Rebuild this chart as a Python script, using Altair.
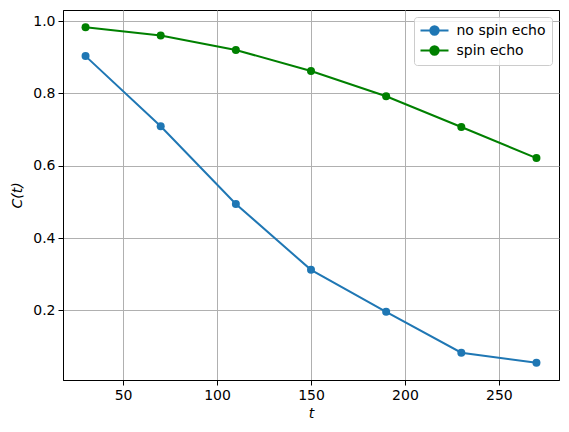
import altair as alt
import pandas as pd

t = [30, 70, 110, 150, 190, 230, 270]
no_echo = [0.903, 0.709, 0.494, 0.312, 0.196, 0.083, 0.055]
echo = [0.983, 0.960, 0.920, 0.862, 0.792, 0.707, 0.621]
series = ["no spin echo", "spin echo"]
colors = ["#1f77b4", "#008000"]

rows = []
for s, vals in zip(series, [no_echo, echo]):
    for x, y in zip(t, vals):
        rows.append({"t": x, "C": y, "series": s})
df = pd.DataFrame(rows)

xs = alt.Scale(domain=[18, 282], nice=False, zero=False)
ys = alt.Scale(domain=[0.0075, 1.0305], nice=False, zero=False)

x = alt.X("t:Q", scale=xs, title="t",
          axis=alt.Axis(values=[50, 100, 150, 200, 250], titleFontStyle="italic"))
y = alt.Y("C:Q", scale=ys, title="C(t)",
          axis=alt.Axis(values=[0.2, 0.4, 0.6, 0.8, 1.0], format=".1f", titleFontStyle="italic"))

cscale = alt.Scale(domain=series, range=colors)

path = "M-2,0H2M0.6,0A0.6,0.6 0 1 1 -0.6,0A0.6,0.6 0 1 1 0.6,0Z"
leg = alt.Legend(title=None, orient="none", legendX=351, legendY=7,
                 symbolType=path, symbolSize=196, symbolStrokeWidth=2,
                 symbolOffset=7,
                 labelFontSize=14, labelFont="DejaVu Sans", labelColor="black",
                 labelOffset=14, rowPadding=2, padding=5.5,
                 fillColor="rgba(255,255,255,0.8)", strokeColor="#cccccc",
                 cornerRadius=3, symbolOpacity=1)

lines = alt.Chart(df).mark_line(strokeWidth=2).encode(
    x=x, y=y,
    stroke=alt.Stroke("series:N", scale=cscale, legend=leg),
)
points = alt.Chart(df).mark_point(filled=True, size=64, opacity=1).encode(
    x=x, y=y,
    fill=alt.Fill("series:N", scale=cscale, legend=leg),
)

chart = alt.layer(lines, points).properties(
    width=496, height=370,
    autosize=alt.AutoSizeParams(type="none"),
    padding={"left": 55, "top": 2, "right": 2, "bottom": 44},
).configure_view(stroke="black", strokeWidth=1).configure_axis(
    domainColor="black", domainWidth=1, tickColor="black", tickSize=5, tickWidth=1,
    labelFont="DejaVu Sans", labelFontSize=14, labelColor="black",
    titleFont="DejaVu Sans", titleFontSize=14, titleColor="black", titleFontWeight="normal",
    gridColor="#b0b0b0", gridWidth=1, labelPadding=3,
).configure_axisX(titlePadding=4).configure_axisY(titlePadding=8)

chart.save("out.html", embed_options={"renderer": "svg", "actions": False})
